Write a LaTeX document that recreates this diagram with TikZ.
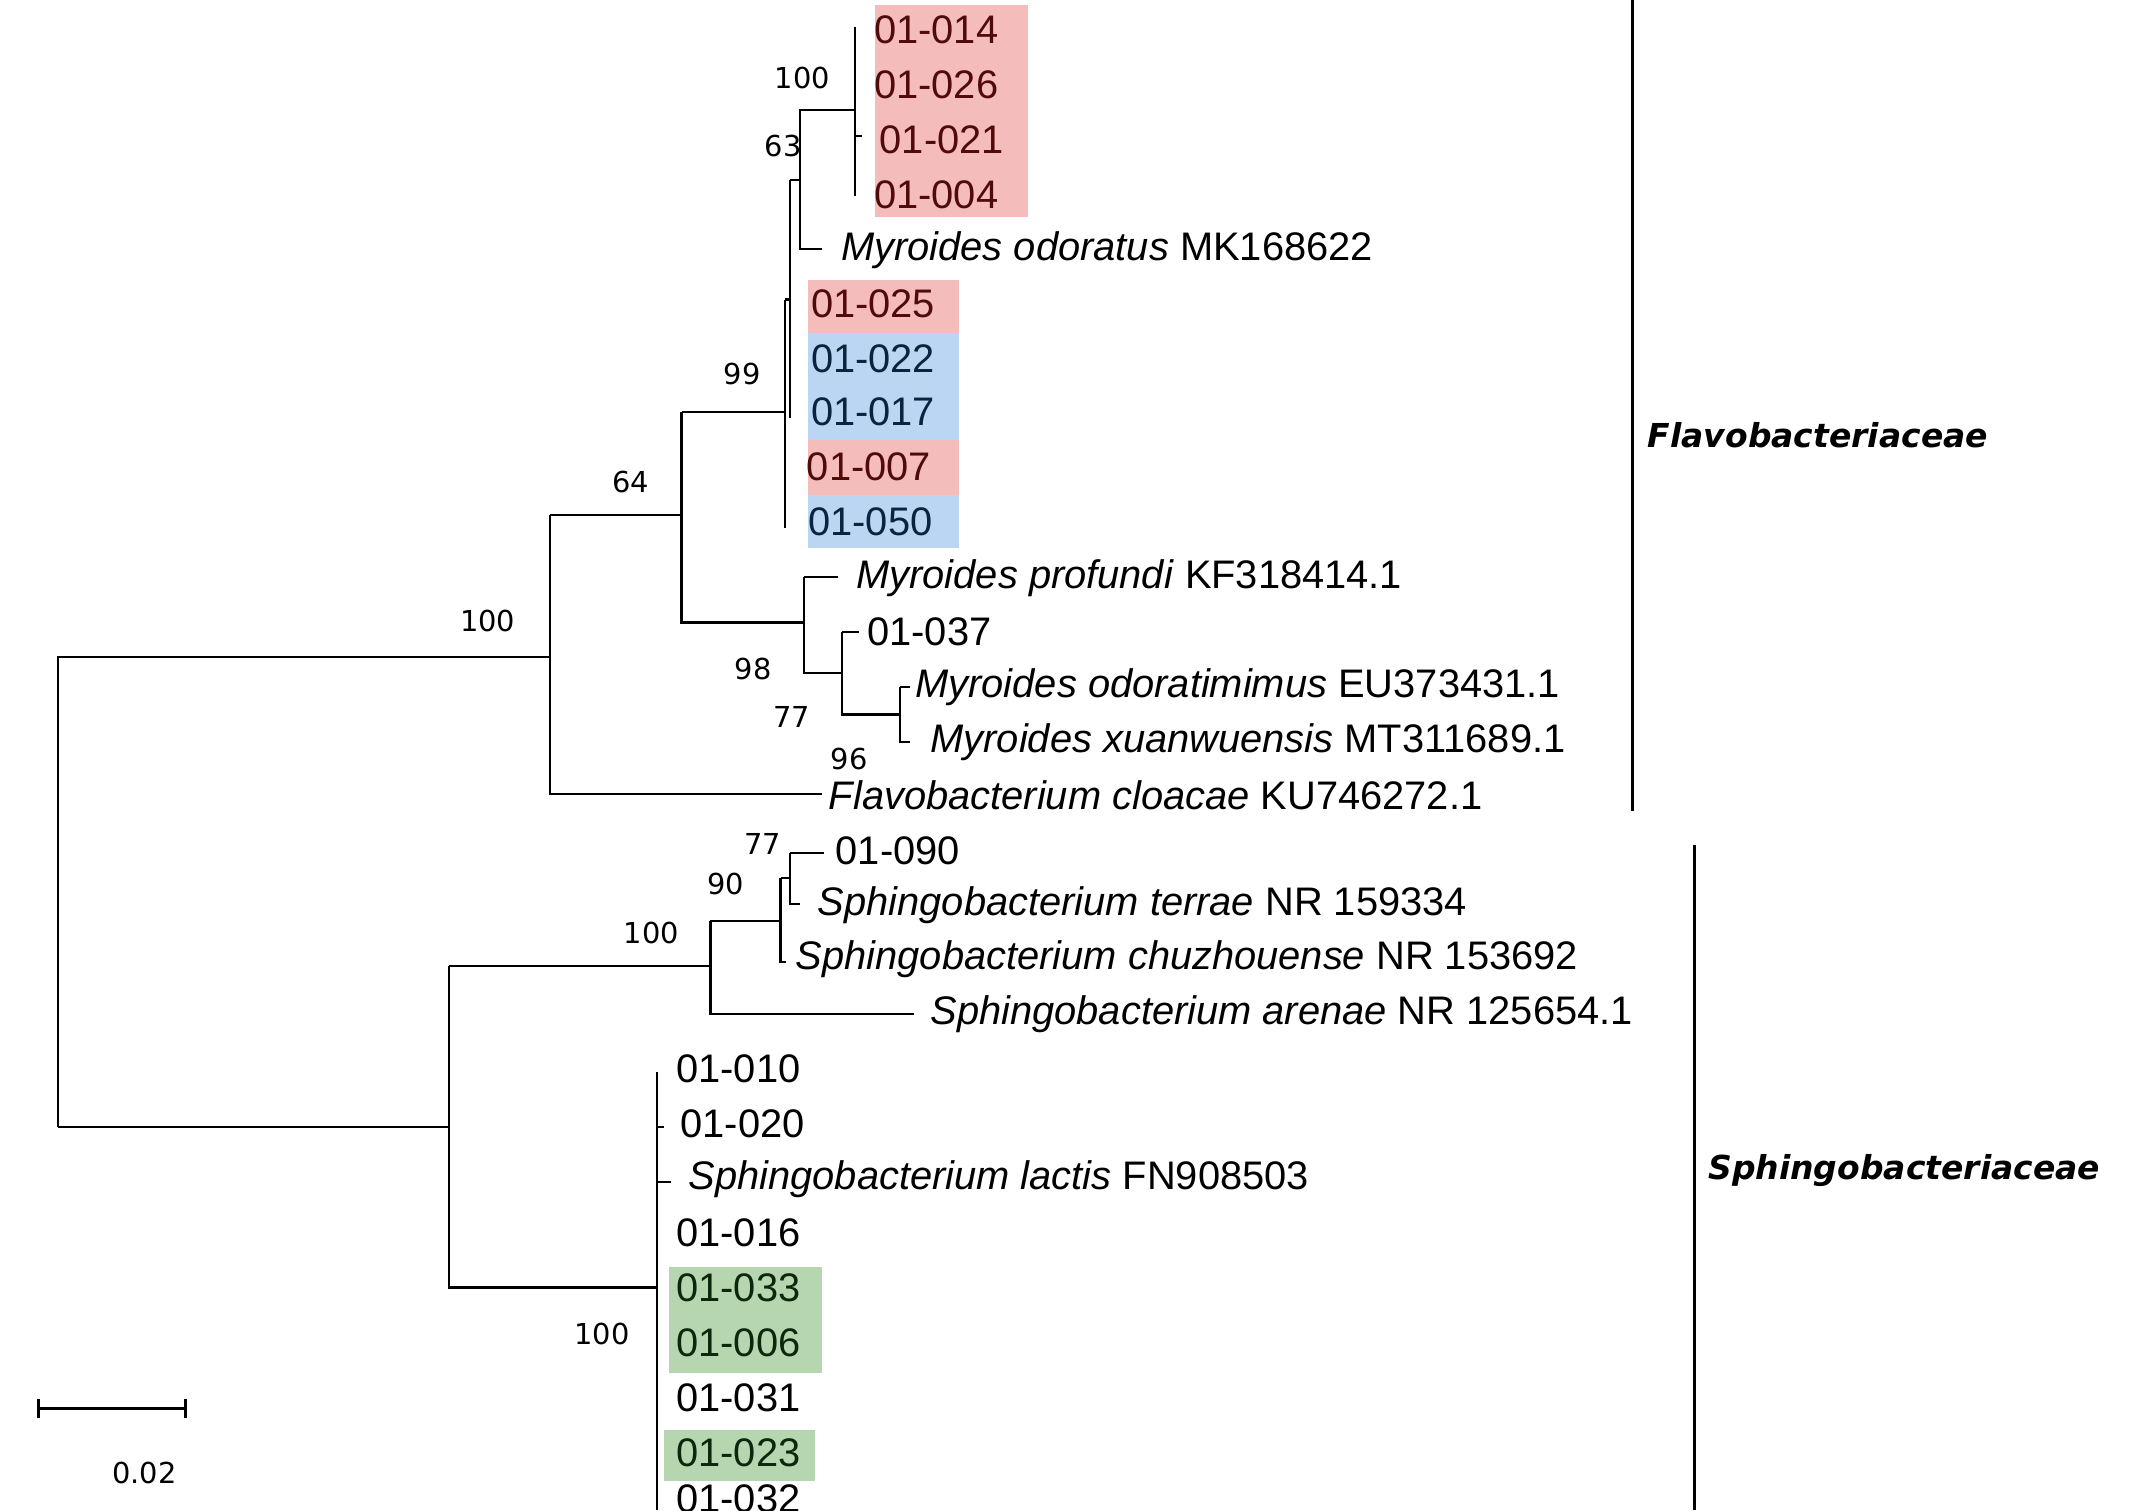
\documentclass[tikz,border=0pt]{standalone}
\usepackage{fontspec}
\setmainfont{Liberation Sans}
\newfontfamily\numfont{DejaVu Sans}
\definecolor{rfill}{RGB}{245,188,188}
\definecolor{bfill}{RGB}{186,214,242}
\definecolor{gfill}{RGB}{182,214,176}
\definecolor{rtxt}{RGB}{80,10,10}
\definecolor{btxt}{RGB}{10,36,64}
\definecolor{gtxt}{RGB}{12,40,12}
\tikzset{
 leaf/.style={anchor=west,inner sep=2pt,yshift=2pt,font=\fontsize{29}{31}\selectfont},
 bs/.style={font=\numfont\fontsize{21}{23}\selectfont,inner sep=0pt},
 fam/.style={font=\numfont\bfseries\itshape\fontsize{24}{26}\selectfont,anchor=west,inner sep=0pt},
 br/.style={line width=1.6pt},
 bar/.style={line width=2.2pt}
}
\begin{document}
\begin{tikzpicture}[x=1pt,y=-1pt]
\useasboundingbox (0,0) rectangle (1553,1099);
% highlights
\fill[rfill] (637,4) rectangle (748,158);
\fill[rfill] (588,204) rectangle (698,242);
\fill[bfill] (588,242) rectangle (698,281);
\fill[bfill] (588,281) rectangle (698,320);
\fill[rfill] (588,320) rectangle (698,360);
\fill[bfill] (588,360) rectangle (698,399);
\fill[gfill] (487,922) rectangle (598,960);
\fill[gfill] (487,960) rectangle (598,999);
\fill[gfill] (483,1041) rectangle (593,1078);
% leaves
\node[leaf,text=rtxt] (l1) at (634,24) {01-014};
\node[leaf,text=rtxt] (l2) at (634,64) {01-026};
\node[leaf,text=rtxt] (l3) at (638,104) {01-021};
\node[leaf,text=rtxt] (l4) at (634,144) {01-004};
\node[leaf] (l5) at (610,184) {\textit{Myroides odoratus} MK168622};
\node[leaf,text=rtxt] (l6) at (588,223) {01-025};
\node[leaf,text=btxt] (l7) at (588,263) {01-022};
\node[leaf,text=btxt] (l8) at (588,302) {01-017};
\node[leaf,text=rtxt] (l9) at (585,342) {01-007};
\node[leaf,text=btxt] (l10) at (586,382) {01-050};
\node[leaf] (l11) at (621,423) {\textit{Myroides profundi} KF318414.1};
\node[leaf] (l12) at (629,462) {01-037};
\node[leaf] (l13) at (664,502) {\textit{Myroides odoratimimus} EU373431.1};
\node[leaf] (l14) at (675,542) {\textit{Myroides xuanwuensis} MT311689.1};
\node[leaf] (l15) at (601,581) {\textit{Flavobacterium cloacae} KU746272.1};
\node[leaf] (l16) at (606,621) {01-090};
\node[leaf] (l17) at (593,661) {\textit{Sphingobacterium terrae} NR 159334};
\node[leaf] (l18) at (577,700) {\textit{Sphingobacterium chuzhouense} NR 153692};
\node[leaf] (l19) at (675,740) {\textit{Sphingobacterium arenae} NR 125654.1};
\node[leaf] (l20) at (490,780) {01-010};
\node[leaf] (l21) at (493,820) {01-020};
\node[leaf] (l22) at (499,860) {\textit{Sphingobacterium lactis} FN908503};
\node[leaf] (l23) at (490,899) {01-016};
\node[leaf,text=gtxt] (l24) at (490,939) {01-033};
\node[leaf,text=gtxt] (l25) at (490,979) {01-006};
\node[leaf] (l26) at (490,1019) {01-031};
\node[leaf,text=gtxt] (l27) at (490,1059) {01-023};
\node[leaf] (l28) at (490,1093) {01-032};
% tree: Flavobacteriaceae
\draw[br] (42,820) -- (42,478) -- (400,478);
\draw[br] (400,375) -- (400,578) -- (598,578);
\draw[br] (400,375) -- (496,375);
\draw[br] (496,300) -- (496,453) -- (585,453);
\draw[br] (496,300) -- (571,300);
\draw[br] (571,218) -- (571,384);
\draw[br] (575,131) -- (575,304);
\draw[br] (571,218) -- (575,218);
\draw[br] (575,131) -- (582,131);
\draw[br] (598,181) -- (582,181) -- (582,80) -- (622,80);
\draw[br] (622,20) -- (622,143);
\draw[br] (622,99) -- (627,99);
\draw[br] (585,420) -- (585,490) -- (613,490);
\draw[br] (585,420) -- (610,420);
\draw[br] (613,460) -- (613,520) -- (655,520);
\draw[br] (613,460) -- (625,460);
\draw[br] (655,500) -- (655,540) -- (662,540);
\draw[br] (655,500) -- (662,500);
% tree: Sphingobacteriaceae
\draw[br] (42,820) -- (327,820);
\draw[br] (327,703) -- (327,937) -- (478,937);
\draw[br] (327,703) -- (517,703);
\draw[br] (517,670) -- (517,738) -- (665,738);
\draw[br] (517,670) -- (568,670);
\draw[br] (568,639) -- (568,700) -- (572,700);
\draw[br] (568,639) -- (575,639);
\draw[br] (575,621) -- (575,658) -- (582,658);
\draw[br] (575,621) -- (600,621);
\draw[br] (478,780) -- (478,1099);
\draw[br] (478,820) -- (483,820);
\draw[br] (478,860) -- (488,860);
% bootstrap values
\node[bs] (b1) at (584,57) {100};
\node[bs] (b2) at (570,106) {63};
\node[bs] (b3) at (540,272) {99};
\node[bs] (b4) at (459,351) {64};
\node[bs] (b5) at (355,452) {100};
\node[bs] (b6) at (548,487) {98};
\node[bs] (b7) at (576,522) {77};
\node[bs] (b8) at (618,552) {96};
\node[bs] (b9) at (555,614) {77};
\node[bs] (b10) at (528,643) {90};
\node[bs] (b11) at (474,679) {100};
\node[bs] (b12) at (438,971) {100};
% families
\draw[bar] (1188,0) -- (1188,590);
\node[fam] (f1) at (1199,317) {Flavobacteriaceae};
\draw[bar] (1233,615) -- (1233,1099);
\node[fam] (f2) at (1243,852) {Sphingobacteriaceae};
% scale bar
\draw[br] (28,1025) -- (135,1025);
\draw[br] (28,1018) -- (28,1032);
\draw[br] (135,1018) -- (135,1032);
\node[bs] (sc) at (105,1072) {0.02};
\end{tikzpicture}
\end{document}
